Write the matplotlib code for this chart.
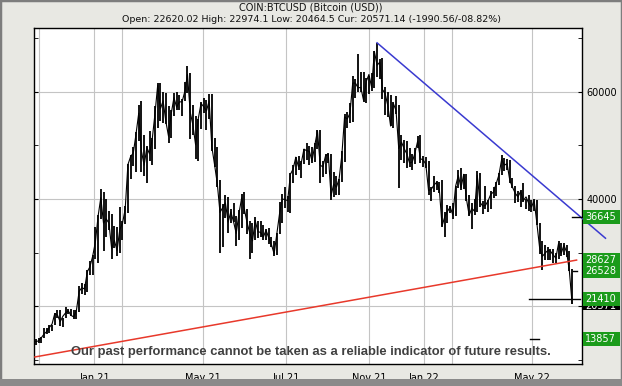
import numpy as np
import pandas as pd
import matplotlib
matplotlib.use('Agg')
import matplotlib.pyplot as plt
import matplotlib.dates as mdates
from matplotlib.patches import Rectangle
from matplotlib.transforms import blended_transform_factory

# --- datos: barras de 3 dias desde 2020-10-27 (maximo, minimo, cierre) ---
start = '2020-10-27'
highs = [13860, 14100, 14250, 15950, 15900, 16500, 16500, 18800, 19400, 19400, 17900,
         19900, 19600, 19450, 19300, 19350, 23800, 24300, 24100, 26800, 28400, 29600,
         # 2021
         34800, 37000, 41950, 41400, 40000, 37800, 37200, 34900, 34800, 38500, 35900,
         38700, 46600, 48200, 49700, 52500, 57500, 58350, 52000, 49800,
         52600, 51400, 57400, 61700, 61600, 60000, 59800, 57300, 56600, 59800,
         60000, 59300, 58600, 61800, 64850, 63400, 57600, 55400, 55000, 58000,
         58900, 58400, 59500, 59600, 51300, 49700, 43500, 39000, 40800, 40400, 38200,
         39300, 36800, 38000, 40900, 41300, 38100, 36000, 35500, 36600, 36000,
         35900, 35100, 34500, 34600, 32900, 32100, 33600, 39500, 40900, 42300,
         40500, 44800, 46400, 47900, 48100, 47100, 49400, 50500, 49800, 49600,
         50500, 52900, 52900, 47000, 48400, 48500, 48300, 45000, 44300, 43800,
         49000, 55800, 56200, 57800, 62900, 62400, 67000, 63700, 63700, 62500, 63000,
         63500, 67500, 69000, 66000, 66300, 60900, 60000, 59300, 58000, 59100,
         57600, 51900, 51000, 50800, 49500, 48400, 49500, 51800, 52000, 48000,
         # 2022
         47900, 47000, 42300, 44300, 43400, 43200, 43500, 37500, 38900, 38700,
         39200, 42500, 45500, 45800, 44700, 44600, 40700, 39200, 40000, 45300,
         44900, 39600, 42500, 39900, 41500, 42300, 43200, 44800, 48200, 47700,
         47400, 47200, 43900, 42400, 41500, 41700, 42900, 40000, 40800, 39900,
         40000, 39800, 35500, 32100, 31400, 31000, 30700, 30700, 29900, 32200,
         31900, 31800, 31500, 30400, 26900]
lows = [12900, 13200, 13200, 14100, 14800, 15100, 15400, 16500, 17800, 16300, 16200,
        17800, 18600, 18200, 17600, 17600, 19000, 22300, 22100, 22700, 25800, 25900,
        28800, 28000, 36300, 30300, 33000, 34300, 28900, 30800, 29300, 30000, 32300,
        35400, 37400, 43700, 46200, 45000, 50900, 45000, 44200, 43000,
        47000, 46300, 49300, 53300, 54600, 54100, 54000, 50400, 51300, 55500,
        56500, 56500, 55400, 58200, 59800, 51200, 52000, 47500, 47000, 53000,
        56000, 52900, 55000, 49000, 46000, 42200, 30000, 31100, 36400, 33600, 35600,
        35700, 31200, 32400, 34600, 37300, 33400, 28800, 30000, 32300, 32700,
        33000, 32300, 32300, 31600, 31000, 29300, 29500, 33400, 35500, 38300,
        37500, 37400, 43000, 44400, 45500, 43900, 46600, 47200, 46400, 46700,
        46900, 49400, 43000, 44100, 44700, 46800, 39800, 40300, 40800, 40800,
        43200, 46900, 53200, 54100, 54400, 58900, 60000, 60000, 58000, 57800, 59500,
        60100, 60700, 62800, 62300, 58600, 55600, 55300, 53600, 53300, 55900,
        42000, 47300, 46800, 45700, 46000, 45500, 46600, 49500, 46700, 45900,
        45700, 40800, 39700, 41300, 41700, 41100, 34800, 32900, 35600, 37400,
        36300, 36800, 42000, 41700, 41800, 39700, 36900, 34400, 37000, 37500,
        38600, 37200, 38200, 37600, 38100, 40100, 40500, 42600, 44400, 45200,
        45500, 43000, 42000, 39200, 39500, 38600, 39500, 38200, 37700, 37600,
        37700, 35200, 29700, 26700, 28700, 28700, 28700, 28000, 28000, 28900,
        29300, 29500, 29200, 26600, 20464]
closes = [13460, 13560, 14130, 14830, 15300, 16070, 16720, 18650, 18380, 17150, 18170,
          18800, 19150, 18320, 18050, 19280, 22800, 23500, 23240, 26450, 27400, 29370,
          32000, 36800, 40250, 35500, 36300, 35500, 30800, 32300, 30400, 34300, 35500,
          38100, 46400, 47900, 48600, 52100, 56000, 48900, 46300, 49600,
          48400, 51200, 55900, 61200, 56800, 58300, 54500, 51700, 55900, 58900,
          57100, 58100, 58100, 60000, 63200, 56200, 53800, 50100, 55000, 57800,
          57200, 56400, 58300, 49700, 46400, 42900, 37500, 38400, 39300, 35700, 37600,
          35800, 33600, 37300, 40200, 38100, 35600, 33700, 32200, 36000, 33900,
          33800, 32900, 34200, 32800, 31500, 29800, 33600, 37300, 40000, 39900,
          39700, 44600, 45600, 47800, 46000, 46700, 49300, 49000, 48900, 47100,
          50000, 52700, 46300, 46000, 48100, 48300, 40600, 42800, 42200, 43800,
          48200, 55300, 54900, 56000, 61600, 61600, 60700, 60800, 58400, 61900, 63200,
          60800, 67500, 64900, 65500, 60400, 59600, 57300, 53600, 57800, 56500,
          49400, 50600, 49400, 48400, 46700, 46900, 48600, 50800, 47500, 47300,
          46500, 41600, 41800, 42600, 43100, 41700, 35000, 36700, 37700, 38500,
          37000, 42400, 44400, 42100, 44600, 40000, 37000, 38300, 37700, 44400,
          39400, 38700, 38800, 39700, 40900, 41300, 42900, 44500, 47400, 46300,
          46600, 43500, 42200, 41100, 40400, 41400, 39700, 40400, 39200, 38500,
          39700, 35500, 31000, 29300, 29900, 30400, 30300, 29600, 29000, 31700,
          29900, 31400, 30100, 26600, 20571]

# lineas de tendencia
support_dates = ['2020-10-27', '2022-06-19']
support_vals = [10580, 28627]
resist_dates = ['2021-11-10', '2022-07-21']
resist_vals = [69100, 32700]

# niveles marcados a la derecha
level_vals = [36645, 28627, 26528, 21410, 13857]
current_val = 20571
# segmentos horizontales (nivel, desde, hasta)
seg_vals = [21410, 36645, 13857, 26528]
seg_from = ['2022-04-27', '2022-06-14', '2022-04-28', '2022-06-15']
seg_to = ['2022-06-23', '2022-06-25', '2022-05-08', '2022-06-19']

tick_dates = ['2020-11-01', '2021-01-01', '2021-02-01', '2021-05-01', '2021-08-01',
              '2021-11-01', '2022-01-01', '2022-02-01', '2022-05-01']
tick_labels = ['', 'Jan 21', '', 'May 21', 'Jul 21', 'Nov 21', 'Jan 22', '', 'May 22']

W, H = 622, 386
fig = plt.figure(figsize=(W / 100, H / 100), dpi=100, facecolor='#e8e8e3')
ax = fig.add_axes([34 / W, 22 / H, 548 / W, 336 / H])
ax.set_facecolor('white')

# marco exterior
fig.patches.append(Rectangle((0, 0), 1, 1, transform=fig.transFigure, fill=False,
                             ec='#7d7d7d', lw=2.5))
fig.patches.append(Rectangle((0, 0), 1, 7 / H, transform=fig.transFigure,
                             fc='#8a8a8a', ec='none'))

dnum = lambda s: mdates.date2num(pd.Timestamp(s))
x = mdates.date2num(pd.date_range(start, periods=len(highs), freq='3D') + pd.Timedelta(days=1))

ax.vlines(x, lows, highs, color='black', lw=1.3, zorder=3)
ax.plot(x, closes, color='black', lw=0.8, zorder=3)

ax.plot([dnum(d) for d in support_dates], support_vals, color='#e8392b', lw=1.1,
        zorder=4, clip_on=False)
ax.plot([dnum(d) for d in resist_dates], resist_vals, color='#3a3ad0', lw=1.1,
        zorder=4, clip_on=False)
for v, a, b in zip(seg_vals, seg_from, seg_to):
    ax.plot([dnum(a), dnum(b)], [v, v], color='black', lw=1.0, zorder=4, clip_on=False)

ax.set_xlim(dnum('2020-10-26'), dnum('2022-06-25'))
ax.set_ylim(9270, 71860)
ax.set_xticks([dnum(d) for d in tick_dates])
ax.set_xticklabels(tick_labels)
ax.set_yticks([20000, 40000, 60000])
ax.set_yticklabels(['', '40000', '60000'])
ax.set_yticks([10000, 30000, 50000, 70000], minor=True)
ax.grid(True, which='major', color='#c4c4c4', lw=0.8, zorder=0)
ax.set_axisbelow(True)
ax.tick_params(axis='x', direction='in', length=0, pad=6.5, labelsize=7)
ax.tick_params(axis='y', which='both', direction='in', length=3, left=True, right=True,
               labelleft=False, labelright=True, pad=3, labelsize=7)
for s in ax.spines.values():
    s.set_linewidth(1.0)
    s.set_color('black')

# cajas de niveles
tr = blended_transform_factory(ax.transAxes, ax.transData)
bx0, bw, bh = 1.0018, 37 / 548, 2600
ax.add_patch(Rectangle((bx0, current_val - bh / 2), bw, bh, transform=tr, fc='black',
                       ec='none', clip_on=False, zorder=6))
ax.text(bx0 + 0.004, current_val - 500, f'{current_val}', transform=tr, color='white',
        fontsize=7, va='center', ha='left', zorder=7, clip_on=False)
for v in level_vals:
    ax.add_patch(Rectangle((bx0, v - bh / 2), bw, bh, transform=tr, fc='#1b9b1b',
                           ec='none', clip_on=False, zorder=8))
    ax.text(bx0 + 0.004, v, f'{v}', transform=tr, color='white', fontsize=7,
            va='center', ha='left', zorder=9, clip_on=False)

fig.text(0.5, 1 - 7 / H, 'COIN:BTCUSD (Bitcoin (USD))', ha='center', va='center',
         fontsize=7, color='#111111')
fig.text(0.5, 1 - 19 / H,
         'Open: 22620.02 High: 22974.1 Low: 20464.5 Cur: 20571.14 (-1990.56/-08.82%)',
         ha='center', va='center', fontsize=6.8, color='#111111')
fig.text(311 / W, 1 - 352 / H,
         'Our past performance cannot be taken as a reliable indicator of future results.',
         ha='center', va='center', fontsize=9.4, fontweight='bold', color='#404040',
         family=['Liberation Sans Narrow', 'Liberation Sans'], zorder=10)

plt.savefig('out.png', dpi=100, facecolor=fig.get_facecolor())
